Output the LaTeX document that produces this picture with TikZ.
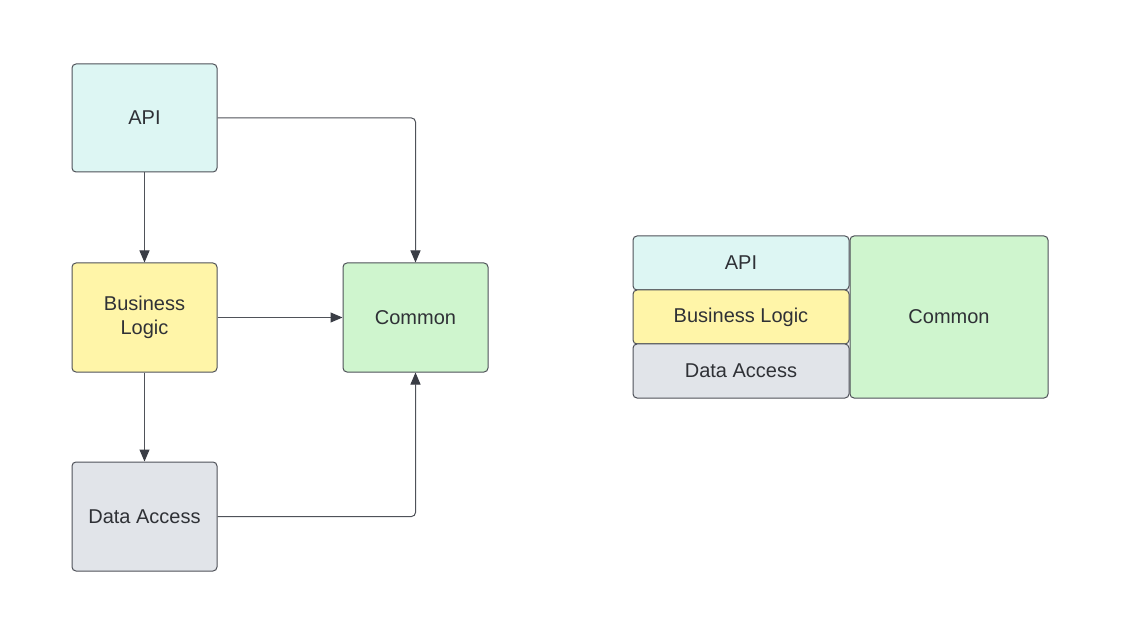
\documentclass[tikz,border=0pt]{standalone}
\usepackage{fontspec}
\setmainfont{Liberation Sans}
\usetikzlibrary{arrows.meta}
\definecolor{apic}{HTML}{DDF6F3}
\definecolor{blc}{HTML}{FFF5A8}
\definecolor{dac}{HTML}{E1E4E9}
\definecolor{cmc}{HTML}{CFF5CE}
\definecolor{edgec}{HTML}{4F5259}
\definecolor{tipc}{HTML}{3A3D45}
\definecolor{txtc}{HTML}{2F3136}
\begin{document}
\begin{tikzpicture}[x=1pt,y=-1pt,
  box/.style={draw=edgec,line width=1pt,rounded corners=4pt,inner sep=0pt,
    text=txtc,font=\fontsize{20}{24}\selectfont,align=center},
  conn/.style={draw=edgec,line width=1pt,-{Triangle[length=12pt,width=10pt,color=tipc]},rounded corners=4pt}]
\useasboundingbox[fill=white] (0,0) rectangle (1122,620);
% left diagram
\node[box,fill=apic,minimum width=145pt,minimum height=108pt] (api) at (144.5,118) {API};
\node[box,fill=blc,minimum width=145pt,minimum height=109pt] (bl) at (144.5,317.5) {Business\\Logic};
\node[box,fill=dac,minimum width=145pt,minimum height=109pt] (da) at (144.5,516.5) {Data Access};
\node[box,fill=cmc,minimum width=145pt,minimum height=109pt] (cm) at (415.5,317.5) {Common};
\draw[conn] (api.south) -- (bl.north);
\draw[conn] (bl.south) -- (da.north);
\draw[conn] (bl.east) -- (cm.west);
\draw[conn] (api.east) -| (cm.north);
\draw[conn] (da.east) -| (cm.south);
% right diagram
\node[box,fill=apic,minimum width=216pt,minimum height=54pt] (rapi) at (741,263) {API};
\node[box,fill=blc,minimum width=216pt,minimum height=54pt] (rbl) at (741,317) {Business Logic};
\node[box,fill=dac,minimum width=216pt,minimum height=54pt] (rda) at (741,371) {Data Access};
\node[box,fill=cmc,minimum width=198pt,minimum height=162pt] (rcm) at (949,317) {Common};
\end{tikzpicture}
\end{document}
